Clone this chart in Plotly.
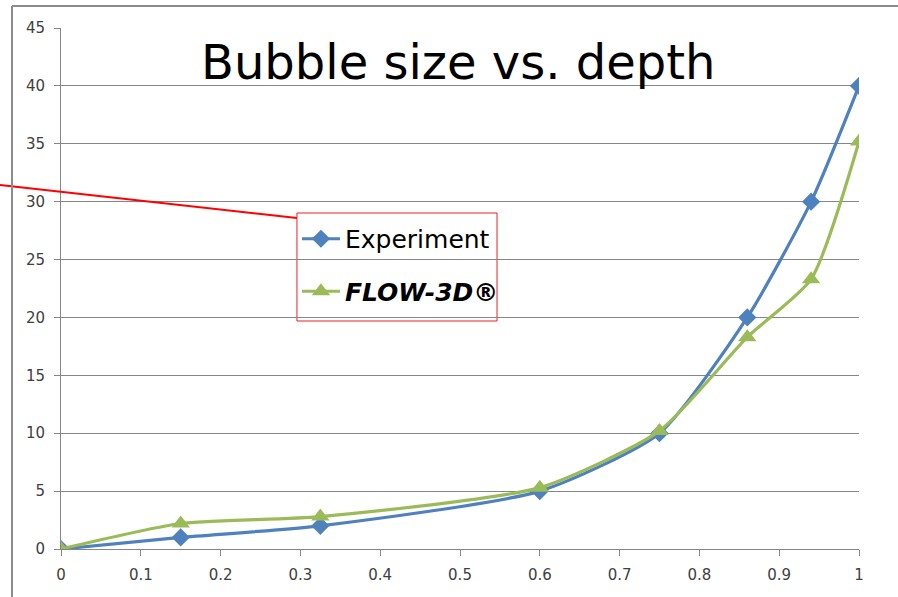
import plotly.graph_objects as go

depth = [0, 0.15, 0.325, 0.6, 0.75, 0.86, 0.94, 1.0]
experiment = [0, 1, 2, 5, 10, 20, 30, 40]
flow3d = [0, 2.2, 2.8, 5.3, 10.2, 18.3, 23.3, 35.2]
x_ticks = [0, 0.1, 0.2, 0.3, 0.4, 0.5, 0.6, 0.7, 0.8, 0.9, 1.0]
x_tick_text = ["0", "0.1", "0.2", "0.3", "0.4", "0.5", "0.6", "0.7", "0.8", "0.9", "1"]
y_ticks = [0, 5, 10, 15, 20, 25, 30, 35, 40, 45]

BLUE = "#4F81BD"
GREEN = "#9BBB59"
FONT = "'DejaVu Sans', sans-serif"

fig = go.Figure()
fig.add_trace(go.Scatter(
    x=depth, y=experiment, name="Experiment", mode="lines+markers",
    line=dict(color=BLUE, width=3.2, shape="spline", smoothing=0.6),
    marker=dict(symbol="diamond", size=14, color=BLUE),
    legendgroup="a",
))
fig.add_trace(go.Scatter(
    x=depth, y=flow3d, name="<b><i>FLOW-3D®</i></b>", mode="lines+markers",
    line=dict(color=GREEN, width=3.2, shape="spline", smoothing=0.6),
    marker=dict(symbol="triangle-up", size=16, color=GREEN),
    legendgroup="b",
))

fig.update_layout(
    width=898, height=597,
    margin=dict(l=61, r=39, t=28, b=48),
    paper_bgcolor="white", plot_bgcolor="white",
    font=dict(family=FONT, color="#404040"),
    showlegend=True,
    legend=dict(
        x=0.2957, y=0.6392, xanchor="left", yanchor="top",
        borderwidth=0, bgcolor="rgba(0,0,0,0)",
        font=dict(size=25, color="black", family=FONT),
        traceorder="grouped", tracegroupgap=17, itemwidth=38,
    ),
    xaxis=dict(
        range=[0, 1], tickvals=x_ticks, ticktext=x_tick_text,
        showgrid=False, zeroline=False,
        showline=True, linecolor="#868686", linewidth=1,
        ticks="outside", ticklen=6, tickcolor="#868686",
        tickfont=dict(size=15, color="#404040"), ticklabelstandoff=6,
    ),
    yaxis=dict(
        range=[0, 45], tickvals=y_ticks,
        showgrid=True, gridcolor="#868686", gridwidth=1, zeroline=False,
        showline=True, linecolor="#868686", linewidth=1,
        ticks="outside", ticklen=6, tickcolor="#868686",
        tickfont=dict(size=15, color="#404040"), ticklabelstandoff=6,
    ),
    annotations=[dict(
        text="Bubble size vs. depth", x=0.498, y=0.935, xref="paper", yref="paper",
        xanchor="center", yanchor="middle", showarrow=False,
        font=dict(size=48, color="black", family=FONT),
    )],
    shapes=[
        dict(type="rect", xref="paper", yref="paper", x0=0.2957, y0=0.4376, x1=0.5464, y1=0.6449,
             line=dict(color="#E8202A", width=1), fillcolor="white", layer="between"),
        dict(type="line", xref="paper", yref="paper", x0=-0.0764, y0=0.6987, x1=0.2957, y1=0.6353,
             line=dict(color="#FF0000", width=2)),
        dict(type="line", xref="paper", yref="paper", x0=-0.0614, y0=1.0422, x1=-0.0614, y1=-0.2,
             line=dict(color="#8C8C8C", width=2)),
        dict(type="line", xref="paper", yref="paper", x0=-0.0614, y0=1.0422, x1=1.1, y1=1.0422,
             line=dict(color="#8C8C8C", width=2)),
    ],
)

fig.write_html("out.html", config={"displayModeBar": False},
               post_script="document.body.style.margin='0';")
